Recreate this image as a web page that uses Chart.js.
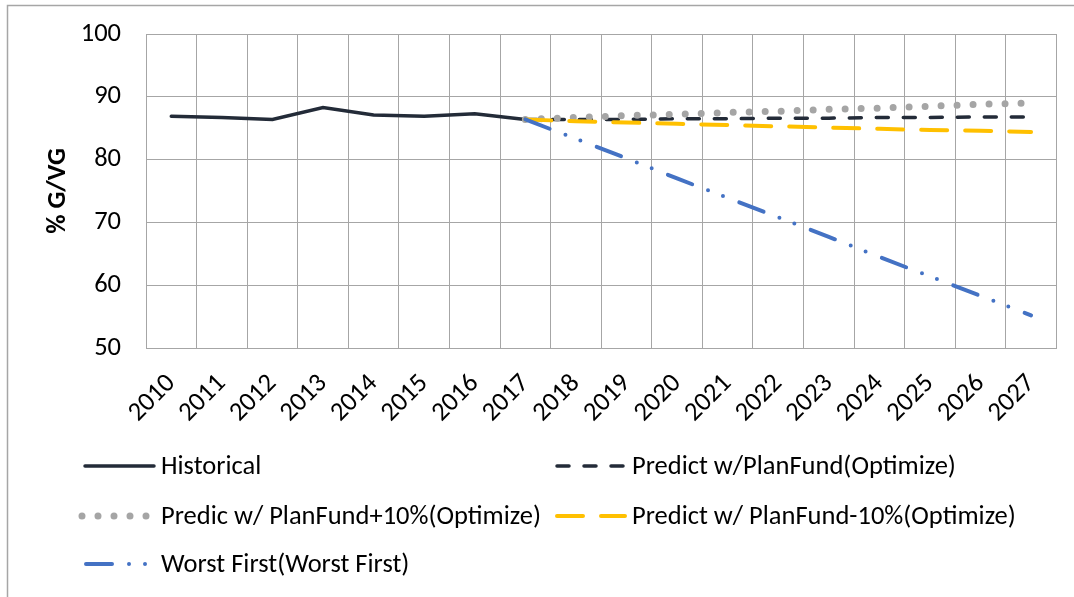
<!DOCTYPE html>
<html>
<head>
<meta charset="utf-8">
<script src="https://cdn.jsdelivr.net/npm/chart.js@4.4.0/dist/chart.umd.min.js"></script>
<style>
  html, body { margin: 0; padding: 0; background: #fff; }
</style>
</head>
<body>
<canvas id="gvgChart" width="1074" height="597"></canvas>
<script>
// 数据
var years = ['2010', '2011', '2012', '2013', '2014', '2015', '2016', '2017', '2018',
             '2019', '2020', '2021', '2022', '2023', '2024', '2025', '2026', '2027'];

var historical   = [86.9, 86.7, 86.4, 88.3, 87.1, 86.9, 87.3, 86.4, null, null, null, null, null, null, null, null, null, null];
var planFund     = [null, null, null, null, null, null, null, 86.4, 86.4, 86.4, 86.5, 86.5, 86.6, 86.6, 86.7, 86.7, 86.8, 86.8];
var planFundUp   = [null, null, null, null, null, null, null, 86.4, 86.7, 87.0, 87.2, 87.5, 87.7, 88.0, 88.2, 88.5, 88.8, 89.0];
var planFundDown = [null, null, null, null, null, null, null, 86.4, 86.1, 85.9, 85.7, 85.5, 85.3, 85.1, 84.9, 84.7, 84.6, 84.4];
var worstFirst   = [null, null, null, null, null, null, null, 86.4, 83.3, 80.2, 77.0, 73.9, 70.8, 67.7, 64.5, 61.4, 58.3, 55.2];

var yTicks = [50, 60, 70, 80, 90, 100];

var FONT = 'Calibri, Carlito, Lato, sans-serif';
var FONT_SIZE = 26.5;
var GRID = '#A6A6A6';

// 自定义图例 (两列)
var legendSlots = [
    {x: 85, y: 466}, {x: 556, y: 466},
    {x: 85, y: 516}, {x: 556, y: 516},
    {x: 85, y: 564}
];

var customLegend = {
    id: 'customLegend',
    beforeDraw: function (chart) {
        var ctx = chart.ctx;
        ctx.save();
        ctx.fillStyle = '#fff';
        ctx.fillRect(0, 0, chart.width, chart.height);
        // 外框
        ctx.strokeStyle = '#A6A6A6';
        ctx.lineWidth = 1.5;
        ctx.beginPath();
        ctx.moveTo(7.5, chart.height);
        ctx.lineTo(7.5, 5.5);
        ctx.lineTo(chart.width, 5.5);
        ctx.stroke();
        ctx.restore();
    },
    afterDraw: function (chart) {
        var ctx = chart.ctx;
        chart.data.datasets.forEach(function (ds, i) {
            var slot = legendSlots[i];
            ctx.save();
            ctx.strokeStyle = ds.borderColor;
            ctx.lineWidth = ds.borderWidth;
            ctx.lineCap = ds.borderCapStyle || 'butt';
            ctx.setLineDash(ds.borderDash || []);
            ctx.beginPath();
            ctx.moveTo(slot.x + (ds.legendStart || 0), slot.y);
            ctx.lineTo(slot.x + 69, slot.y);
            ctx.stroke();
            ctx.setLineDash([]);
            ctx.fillStyle = '#000';
            ctx.font = FONT_SIZE + 'px ' + FONT;
            ctx.textBaseline = 'middle';
            ctx.textAlign = 'left';
            ctx.fillText(ds.label, slot.x + 76, slot.y + 1);
            ctx.restore();
        });
    }
};

var gvgChart = new Chart(document.getElementById('gvgChart').getContext('2d'), {
    type: 'line',
    data: {
        labels: years,
        datasets: [{
            label: 'Historical',
            data: historical,
            borderColor: '#232B38',
            borderWidth: 3.5,
            borderCapStyle: 'round',
            order: 5
        }, {
            label: 'Predict w/PlanFund(Optimize)',
            data: planFund,
            borderColor: '#232B38',
            borderWidth: 3.5,
            borderDash: [12, 15],
            borderCapStyle: 'round',
            legendStart: 1,
            order: 4
        }, {
            label: 'Predic w/ PlanFund+10%(Optimize)',
            data: planFundUp,
            borderColor: '#A5A5A5',
            borderWidth: 7,
            borderDash: [0, 16],
            borderCapStyle: 'round',
            legendStart: -3,
            order: 3
        }, {
            label: 'Predict w/ PlanFund-10%(Optimize)',
            data: planFundDown,
            borderColor: '#FFC000',
            borderWidth: 4,
            borderDash: [26, 18],
            borderCapStyle: 'round',
            legendStart: 1,
            order: 2
        }, {
            label: 'Worst First(Worst First)',
            data: worstFirst,
            borderColor: '#4472C4',
            borderWidth: 4,
            borderDash: [26, 17, 0, 16, 0, 17.5],
            borderCapStyle: 'round',
            legendStart: 1,
            order: 1
        }]
    },
    options: {
        responsive: false,
        animation: false,
        devicePixelRatio: 1,
        layout: { padding: { left: 0, right: 16, top: 34, bottom: 160 } },
        elements: {
            point: { radius: 0, hoverRadius: 0 },
            line: { tension: 0, fill: false }
        },
        plugins: {
            legend: { display: false },
            tooltip: { enabled: false }
        },
        scales: {
            x: {
                offset: true,
                grid: { color: GRID, lineWidth: 1, drawTicks: false, offset: true },
                border: { color: GRID, width: 1 },
                ticks: {
                    autoSkip: false,
                    minRotation: 45,
                    maxRotation: 45,
                    padding: 20,
                    color: '#000',
                    font: { family: FONT, size: FONT_SIZE }
                },
                afterFit: function (scale) { scale.height = 89; }
            },
            y: {
                min: 50,
                max: 100,
                afterBuildTicks: function (scale) {
                    scale.ticks = yTicks.map(function (v) { return { value: v }; });
                },
                grid: { color: GRID, lineWidth: 1, drawTicks: false },
                border: { color: GRID, width: 1 },
                ticks: {
                    padding: 25,
                    color: '#000',
                    font: { family: FONT, size: FONT_SIZE, lineHeight: 0.6 }
                },
                title: {
                    display: true,
                    text: '% G/VG',
                    color: '#000',
                    font: { family: FONT, size: FONT_SIZE, weight: 'bold' },
                    padding: { top: 42, bottom: 0 }
                },
                afterFit: function (scale) {
                    scale.width = 146;
                    scale.paddingTop = 0;
                    scale.paddingBottom = 0;
                }
            }
        }
    },
    plugins: [customLegend]
});
</script>
</body>
</html>
